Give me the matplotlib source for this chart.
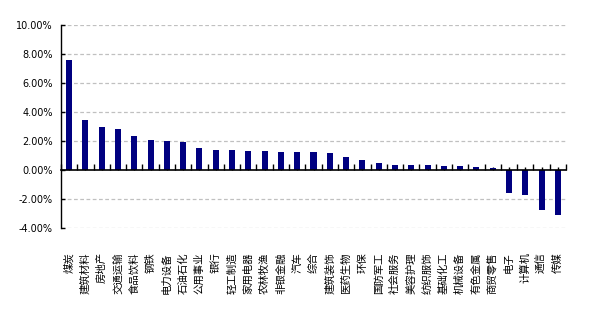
import matplotlib
matplotlib.use("Agg")
import matplotlib.pyplot as plt
import matplotlib.transforms as mtransforms
import numpy as np

plt.rcParams['font.family'] = ['Noto Sans CJK SC', 'DejaVu Sans']

categories = ["煤炭", "建筑材料", "房地产", "交通运输", "食品饮料", "钢铁", "电力设备", "石油石化",
              "公用事业", "银行", "轻工制造", "家用电器", "农林牧渔", "非银金融", "汽车", "综合",
              "建筑装饰", "医药生物", "环保", "国防军工", "社会服务", "美容护理", "纺织服饰",
              "基础化工", "机械设备", "有色金属", "商贸零售", "电子", "计算机", "通信", "传媒"]
values = [7.59, 3.45, 2.97, 2.83, 2.34, 2.07, 2.00, 1.93,
          1.52, 1.38, 1.38, 1.31, 1.31, 1.24, 1.24, 1.24,
          1.17, 0.90, 0.69, 0.48, 0.34, 0.34, 0.34,
          0.28, 0.28, 0.21, 0.14, -1.56, -1.72, -2.76, -3.10]
yticks = [-4, -2, 0, 2, 4, 6, 8, 10]
ytick_labels = ["-4.00%", "-2.00%", "0.00%", "2.00%", "4.00%", "6.00%", "8.00%", "10.00%"]

fig = plt.figure(figsize=(6.01, 3.13), dpi=100)
ax = fig.add_axes([61/601, 1-228/313, (566-61)/601, (228-25)/313])

x = np.arange(len(categories))
ax.bar(x, values, width=0.37, color="#000080", zorder=2)

ax.set_xlim(-0.5, len(categories) - 0.5)
ax.set_ylim(-4, 10)

# grid
ax.set_yticks(yticks)
ax.set_yticklabels(ytick_labels, fontsize=7, family='DejaVu Sans')
for yv in yticks:
    if yv != 0:
        ax.axhline(yv, color="#C0C0C0", lw=0.9, ls=(0, (3, 2)), zorder=0)

for s in ["top", "right"]:
    ax.spines[s].set_visible(False)
ax.spines["left"].set_linewidth(1.0)
ax.spines["bottom"].set_position(("data", 0))
ax.spines["bottom"].set_linewidth(1.2)
ax.spines["bottom"].set_zorder(3)

ax.tick_params(axis='y', direction='in', length=3, width=1, pad=6)
ax.set_xticks(np.arange(len(categories) + 1) - 0.5)
ax.set_xticks(x, minor=True)
ax.tick_params(axis='x', which='major', direction='in', length=4, width=1, labelbottom=False)
ax.tick_params(axis='x', which='minor', direction='in', length=2, width=1, labelbottom=False)

trans = mtransforms.blended_transform_factory(ax.transData, ax.transAxes)
for xi, name in zip(x, categories):
    ax.text(xi, -0.12, name, rotation=90, ha='center', va='top', fontsize=7.5,
            transform=trans)

fig.savefig("out.png", dpi=100)
